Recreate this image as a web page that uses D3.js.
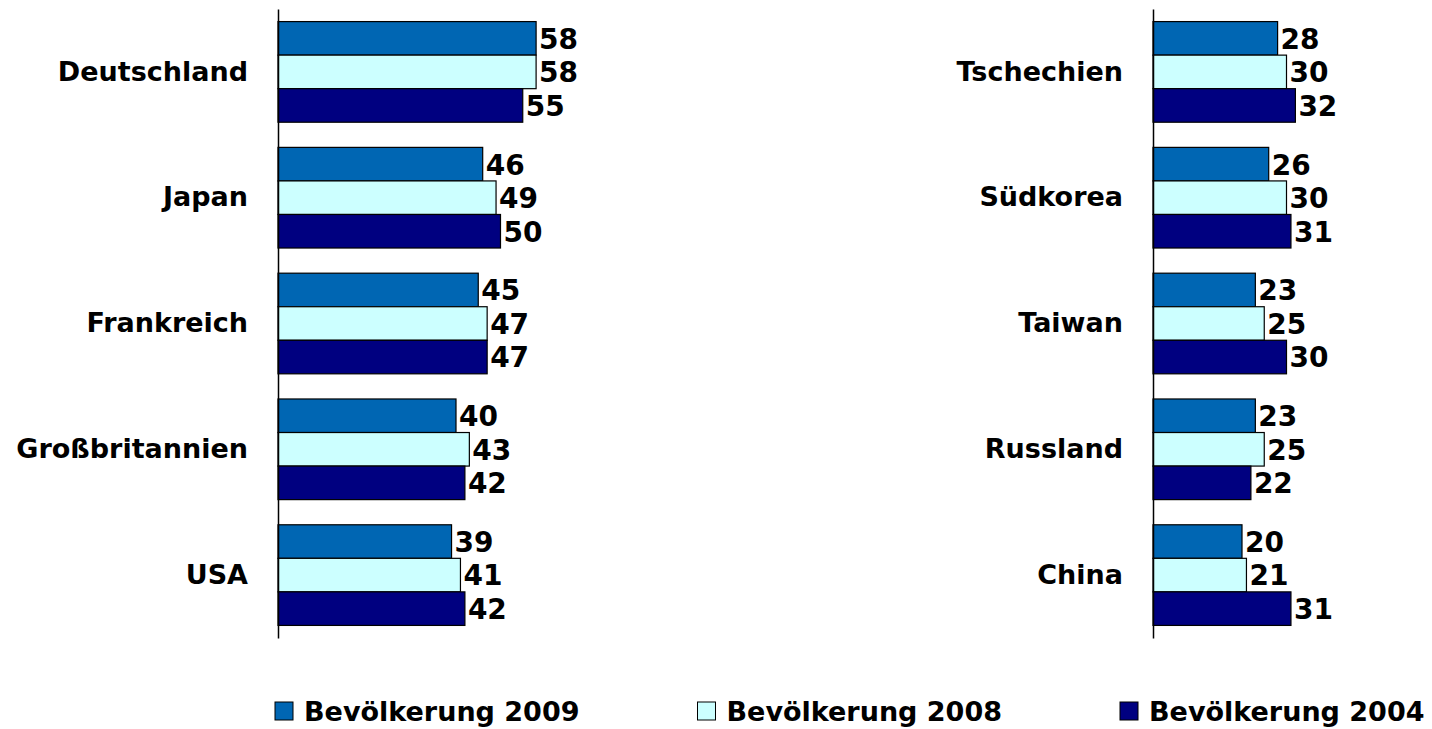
<!DOCTYPE html>
<html>
<head>
<meta charset="utf-8">
<script src="https://cdn.jsdelivr.net/npm/d3@7"></script>
<style>
  body { margin: 0; background: #fff; }
  text { font-family: "DejaVu Sans", Verdana, sans-serif; font-weight: bold; fill: #000; }
</style>
</head>
<body>
<div id="chart"></div>
<script>
// data
const series = ["Bevölkerung 2009", "Bevölkerung 2008", "Bevölkerung 2004"];
const colors = ["#0066b3", "#ccffff", "#000080"];

const leftCountries = ["Deutschland", "Japan", "Frankreich", "Großbritannien", "USA"];
const left2009 = [58, 46, 45, 40, 39];
const left2008 = [58, 49, 47, 43, 41];
const left2004 = [55, 50, 47, 42, 42];

const rightCountries = ["Tschechien", "Südkorea", "Taiwan", "Russland", "China"];
const right2009 = [28, 26, 23, 23, 20];
const right2008 = [30, 30, 25, 25, 21];
const right2004 = [32, 31, 30, 22, 31];

const svgWidth = 1432, svgHeight = 729;
const axisTop = 9, axisBottom = 638;
const pxPerUnit = 4.45;
const domainMax = 70;

let svg = d3.select("#chart")
    .append("svg")
    .attr("width", svgWidth)
    .attr("height", svgHeight);

function add_panel(svg, axisX, countries, vals) {
    let y = d3.scaleBand()
        .domain(countries)
        .range([axisTop, axisBottom])
        .paddingInner(0.2)
        .paddingOuter(0.1);
    let ySub = d3.scaleBand()
        .domain(series)
        .range([0, y.bandwidth()]);
    let x = d3.scaleLinear()
        .domain([0, domainMax])
        .range([axisX, axisX + domainMax * pxPerUnit]);

    let rows = countries.map((c, i) => ({
        country: c,
        values: series.map((s, j) => ({ key: s, value: vals[j][i], color: colors[j] }))
    }));

    let groups = svg.append("g")
        .selectAll("g.group")
        .data(rows)
        .enter()
        .append("g")
        .attr("class", "group")
        .attr("transform", d => `translate(0, ${y(d.country)})`);

    groups.selectAll("rect")
        .data(d => d.values)
        .enter()
        .append("rect")
        .attr("x", x(0))
        .attr("y", d => ySub(d.key))
        .attr("width", d => x(d.value) - x(0))
        .attr("height", ySub.bandwidth())
        .attr("fill", d => d.color)
        .attr("stroke", "#000")
        .attr("stroke-width", 1.2);

    groups.selectAll("text.val")
        .data(d => d.values)
        .enter()
        .append("text")
        .attr("class", "val")
        .attr("x", d => x(d.value) + 3)
        .attr("y", d => ySub(d.key) + ySub.bandwidth() / 2)
        .attr("dy", "0.37em")
        .style("font-size", "28px")
        .text(d => d.value);

    // category axis
    let axis = d3.axisLeft(y).tickSize(0).tickPadding(30);
    let ag = svg.append("g")
        .attr("transform", `translate(${axisX}, 0)`)
        .call(axis);
    ag.select(".domain").attr("stroke", "#000").attr("stroke-width", 1.5);
    ag.selectAll("text")
        .style("font-size", "27px")
        .style("font-family", "DejaVu Sans")
        .attr("font-weight", "bold");
}

add_panel(svg, 278, leftCountries, [left2009, left2008, left2004]);
add_panel(svg, 1153, rightCountries, [right2009, right2008, right2004]);

// legend
let legend = svg.append("g")
    .selectAll("g")
    .data(series)
    .enter()
    .append("g")
    .attr("transform", (d, i) => `translate(${275 + i * 422.5}, 702)`);
legend.append("rect")
    .attr("width", 18)
    .attr("height", 18)
    .attr("fill", (d, i) => colors[i])
    .attr("stroke", "#000")
    .attr("stroke-width", 1);
legend.append("text")
    .attr("x", 29)
    .attr("y", 19)
    .style("font-size", "27px")
    .text(d => d);
</script>
</body>
</html>
